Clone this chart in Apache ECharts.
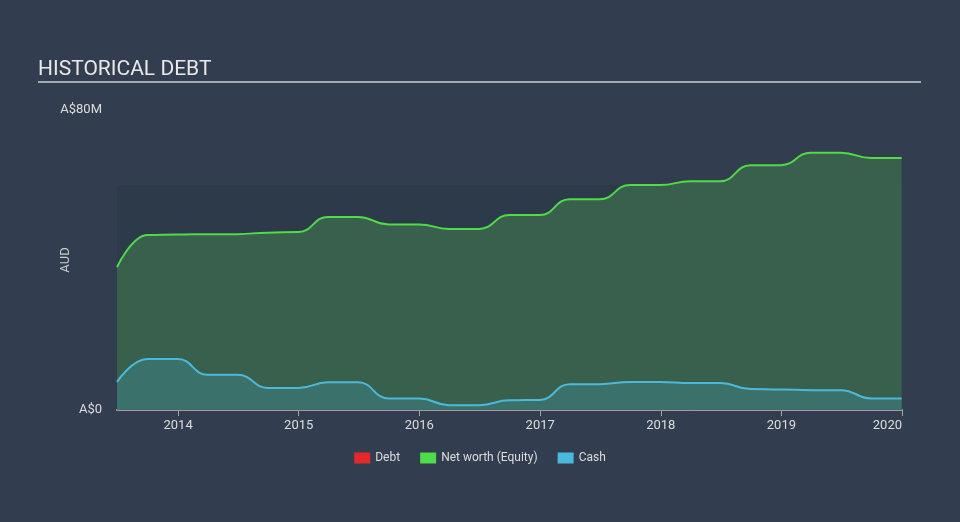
<!DOCTYPE html>
<html>
<head>
<meta charset="utf-8">
<script src="https://cdn.jsdelivr.net/npm/echarts@6/dist/echarts.min.js"></script>
<style>
  html, body { margin: 0; padding: 0; background: #323e4f; }
  #chart { width: 960px; height: 522px; }
</style>
</head>
<body>
<div id="chart"></div>
<script>
// Quarter-end report dates
const dates = [
  '2013-06-30','2013-09-30','2013-12-31','2014-03-31','2014-06-30','2014-09-30','2014-12-31',
  '2015-03-31','2015-06-30','2015-09-30','2015-12-31','2016-03-31','2016-06-30','2016-09-30',
  '2016-12-31','2017-03-31','2017-06-30','2017-09-30','2017-12-31','2018-03-31','2018-06-30',
  '2018-09-30','2018-12-31','2019-03-31','2019-06-30','2019-09-30','2019-12-31'
];
// Values in A$ millions
const debt = [0,0,0,0,0,0,0,0,0,0,0,0,0,0,0,0,0,0,0,0,0,0,0,0,0,0,0];
const netWorth = [
  38.1,46.7,46.8,46.9,46.9,47.3,47.5,51.5,51.5,49.5,49.5,48.3,48.3,52.0,
  52.0,56.2,56.2,60.0,60.0,61.0,61.0,65.3,65.3,68.6,68.6,67.2,67.2
];
const cash = [
  7.5,13.6,13.6,9.4,9.4,5.9,5.9,7.4,7.4,3.1,3.1,1.3,1.3,2.6,
  2.7,6.9,6.9,7.5,7.5,7.2,7.2,5.6,5.5,5.3,5.3,3.1,3.1
];
const axisMin = '2013-06-30';
const axisMax = '2020-01-01';
const yMax = 80;
const shadeTop = 60;

const pair = arr => dates.map((d, i) => [d, arr[i]]);

const chart = echarts.init(document.getElementById('chart'));
chart.setOption({
  backgroundColor: '#323e4f',
  animation: false,
  textStyle: { fontFamily: 'Roboto' },
  title: {
    text: 'HISTORICAL DEBT',
    left: 33, top: 54,
    textStyle: { color: '#e8e8e8', fontSize: 21, fontWeight: 'normal', fontFamily: 'Roboto' }
  },
  graphic: [{
    type: 'line',
    shape: { x1: 38, y1: 82, x2: 921, y2: 82 },
    style: { stroke: '#a7abb1', lineWidth: 2 }
  }],
  legend: {
    bottom: 53, left: 'center',
    icon: 'rect', itemWidth: 16, itemHeight: 11, itemGap: 20,
    textStyle: { color: '#dddddd', fontSize: 12 },
    data: ['Debt', 'Net worth (Equity)', 'Cash']
  },
  grid: { left: 117, right: 58, top: 110, bottom: 112 },
  xAxis: {
    type: 'time',
    min: axisMin, max: axisMax,
    minInterval: 365 * 24 * 3600 * 1000,
    splitLine: { show: false },
    axisLine: { lineStyle: { color: '#a0a4aa', width: 2 } },
    axisTick: { show: true, length: 6, lineStyle: { color: '#a0a4aa' } },
    axisLabel: {
      color: '#dddddd', fontSize: 13, formatter: '{yyyy}',
      showMinLabel: false, showMaxLabel: true, alignMaxLabel: 'right', margin: 9
    }
  },
  yAxis: {
    type: 'value',
    min: 0, max: yMax, interval: yMax,
    name: 'AUD', nameLocation: 'middle', nameGap: 45, nameRotate: 90,
    nameMoveOverlap: false,
    nameTextStyle: { color: '#cccccc', fontSize: 13 },
    splitLine: { show: false },
    axisLine: { show: false },
    axisTick: { show: false },
    axisLabel: {
      color: '#dddddd', fontSize: 13, margin: 15,
      formatter: v => v === 0 ? 'A$0' : 'A$' + v + 'M'
    }
  },
  series: [
    {
      name: 'Debt', type: 'line', data: pair(debt),
      showSymbol: false, symbol: 'none',
      itemStyle: { color: '#e5282a' },
      lineStyle: { color: '#e5282a', width: 1, opacity: 0.35 },
      z: 1,
      markArea: {
        silent: true,
        itemStyle: { color: '#2d3a4a' },
        data: [[{ xAxis: axisMin, yAxis: 0 }, { xAxis: axisMax, yAxis: shadeTop }]]
      }
    },
    {
      name: 'Net worth (Equity)', type: 'line', data: pair(netWorth),
      showSymbol: false, symbol: 'none', smooth: 0.5, smoothMonotone: 'x',
      itemStyle: { color: '#4fdc48' },
      lineStyle: { color: '#4fdc48', width: 2 },
      areaStyle: { color: '#38604c', opacity: 1 },
      z: 2
    },
    {
      name: 'Cash', type: 'line', data: pair(cash),
      showSymbol: false, symbol: 'none', smooth: 0.5, smoothMonotone: 'x',
      itemStyle: { color: '#4bb9dc' },
      lineStyle: { color: '#4bb9dc', width: 2 },
      areaStyle: { color: '#3b716b', opacity: 1 },
      z: 3
    }
  ]
});
</script>
</body>
</html>
